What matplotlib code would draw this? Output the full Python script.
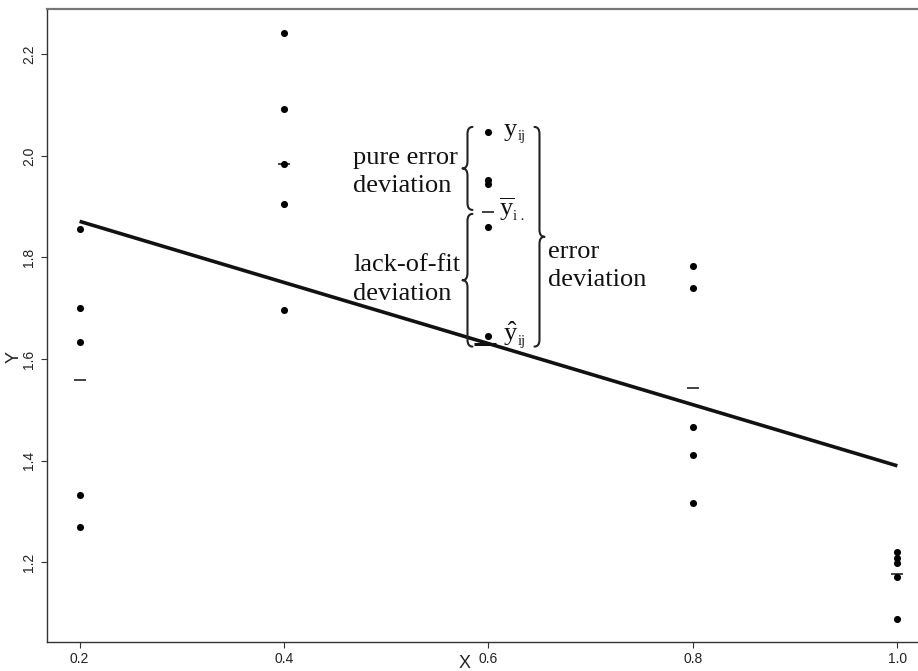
import numpy as np
import matplotlib
matplotlib.use("Agg")
import matplotlib.pyplot as plt
from matplotlib.path import Path
from matplotlib.patches import PathPatch

# ---- data -------------------------------------------------------------
x_levels = [0.2, 0.4, 0.6, 0.8, 1.0]
y_at_02 = [1.856, 1.700, 1.634, 1.332, 1.270]
y_at_04 = [2.241, 2.092, 1.984, 1.905, 1.697]
y_at_06 = [2.047, 1.952, 1.944, 1.859, 1.646]
y_at_08 = [1.784, 1.739, 1.466, 1.411, 1.316]
y_at_10 = [1.221, 1.208, 1.198, 1.171, 1.088]
groups = [y_at_02, y_at_04, y_at_06, y_at_08, y_at_10]

x_ticks = [0.2, 0.4, 0.6, 0.8, 1.0]
x_tick_labels = ["0.2", "0.4", "0.6", "0.8", "1.0"]
y_ticks = [1.2, 1.4, 1.6, 1.8, 2.0, 2.2]
y_tick_labels = ["1.2", "1.4", "1.6", "1.8", "2.0", "2.2"]

# ---- style ------------------------------------------------------------
W, H, DPI = 918, 671, 100
plt.rcParams["mathtext.fontset"] = "custom"
plt.rcParams["mathtext.rm"] = "Liberation Serif"
plt.rcParams["mathtext.it"] = "Liberation Serif:italic"
SANS = ["Liberation Sans Narrow", "Liberation Sans", "DejaVu Sans"]
SERIF = ["Liberation Serif", "DejaVu Serif"]

fig = plt.figure(figsize=(W / DPI, H / DPI), dpi=DPI)
ax_left, ax_right, ax_top, ax_bot = 47, 918, 9, 642.3
ax = fig.add_axes([ax_left / W, 1 - ax_bot / H,
                   (ax_right - ax_left) / W, (ax_bot - ax_top) / H])
xlim = (0.1681, 1.0202)
ylim = (1.0425, 2.2890)
ax.set_xlim(*xlim)
ax.set_ylim(*ylim)

# pixel -> data size helpers for annotation geometry
dx_px = (xlim[1] - xlim[0]) / (ax_right - ax_left)
dy_px = (ylim[1] - ylim[0]) / (ax_bot - ax_top)

# ---- points, group means, fitted line ---------------------------------
xs = np.concatenate([[x] * len(g) for x, g in zip(x_levels, groups)])
ys = np.concatenate(groups)
ax.scatter(xs, ys, s=26, color="black", zorder=3, linewidths=0)

means = [np.mean(g) for g in groups]
half = 6 * dx_px
for x, m in zip(x_levels, means):
    ax.plot([x - half, x + half], [m, m], color="#222222", lw=1.2,
            solid_capstyle="butt", zorder=2)

slope, intercept = np.polyfit(xs, ys, 1)
xl = np.array([x_levels[0], x_levels[-1]])
ax.plot(xl, intercept + slope * xl, color="#111111", lw=2.6,
        solid_capstyle="butt", zorder=2)

# ---- braces -----------------------------------------------------------
def brace(ax, x, y0, y1, depth_px, lw=1.5):
    """Vertical curly brace at stem x between y0 (bottom) and y1 (top).
    Positive depth gives '{' (tip to the left), negative gives '}'."""
    w = depth_px * dx_px
    h = 7 * dy_px
    ym = 0.5 * (y0 + y1)
    verts = [(x + w, y1), (x, y1), (x, y1 - h),
             (x, ym + h), (x, ym), (x - w, ym),
             (x, ym), (x, ym - h),
             (x, y0 + h), (x, y0), (x + w, y0)]
    codes = [Path.MOVETO, Path.CURVE3, Path.CURVE3,
             Path.LINETO, Path.CURVE3, Path.CURVE3,
             Path.CURVE3, Path.CURVE3,
             Path.LINETO, Path.CURVE3, Path.CURVE3]
    ax.add_patch(PathPatch(Path(verts, codes), fill=False, lw=lw,
                           edgecolor="#222222", zorder=4,
                           capstyle="round", joinstyle="round"))

x_hi = 0.6
g6 = y_at_06
y_top = max(g6)
y_bar = np.mean(g6)
y_fit = intercept + slope * x_hi

stem_left = x_hi - 21 * dx_px
stem_right = x_hi + 51 * dx_px
brace(ax, stem_left, y_bar + 2 * dy_px, y_top + 5 * dy_px, 5)
brace(ax, stem_left, y_fit - 3 * dy_px, y_bar - 2 * dy_px, 5)
brace(ax, stem_right, y_fit - 3 * dy_px, y_top + 5 * dy_px, -5)

# fitted-value mark at x = 0.6
ax.plot([x_hi - 14 * dx_px, x_hi + 8 * dx_px], [y_fit, y_fit],
        color="#111111", lw=2.2, solid_capstyle="butt", zorder=3)

# ---- labels next to the marks -----------------------------------------
fs = 19
sub_fs = 10.5


def sym(y, main, sub, dx, dy, sub_dx):
    ax.annotate(main, xy=(x_hi, y), xytext=(dx, dy),
                textcoords="offset pixels", ha="left", va="baseline",
                fontsize=fs, color="#111111")
    ax.annotate(sub, xy=(x_hi, y), xytext=(dx + sub_dx, dy - 4),
                textcoords="offset pixels", ha="left", va="baseline",
                fontsize=sub_fs, family=SERIF, color="#111111")


sym(y_top, r"$\mathrm{y}$", "ij", 15, -4, 14)
sym(y_bar, r"$\overline{\mathrm{y}}$", "i .", 11, -4, 14)
sym(y_fit, r"$\hat{\mathrm{y}}$", "ij", 15, 3, 14)


def ftext(px, py, s):
    fig.text(px / W, 1 - py / H, s, ha="left", va="baseline",
             fontsize=fs, family=SERIF, color="#111111")


ftext(353, 164, "pure error")
ftext(353, 192, "deviation")
ftext(353, 271, "lack-of-fit")
ftext(353, 300, "deviation")
ftext(548, 258, "error")
ftext(548, 286, "deviation")

# ---- axes styling -----------------------------------------------------
ax.set_xticks(x_ticks)
ax.set_xticklabels(x_tick_labels, family=SANS, fontsize=10)
ax.set_yticks(y_ticks)
ax.set_yticklabels(y_tick_labels, family=SANS, fontsize=10,
                   rotation=90, va="center")
ax.tick_params(axis="both", direction="out", length=4, width=0.8,
               color="#333333", labelcolor="#222222")
ax.tick_params(axis="x", pad=3)
ax.tick_params(axis="y", pad=4)
for side in ("left", "bottom"):
    ax.spines[side].set_color("#333333")
    ax.spines[side].set_linewidth(1.0)
ax.spines["top"].set_color("#777777")
ax.spines["top"].set_linewidth(1.6)
ax.spines["right"].set_visible(False)

fig.text(465 / W, 1 - 663 / H, "X", ha="center", va="center",
         fontsize=13, family=SANS, color="#222222")
fig.text(14 / W, 1 - 357 / H, "Y", ha="center", va="center",
         rotation=90, fontsize=13, family=SANS, color="#222222")

fig.savefig("out.png", dpi=DPI)
